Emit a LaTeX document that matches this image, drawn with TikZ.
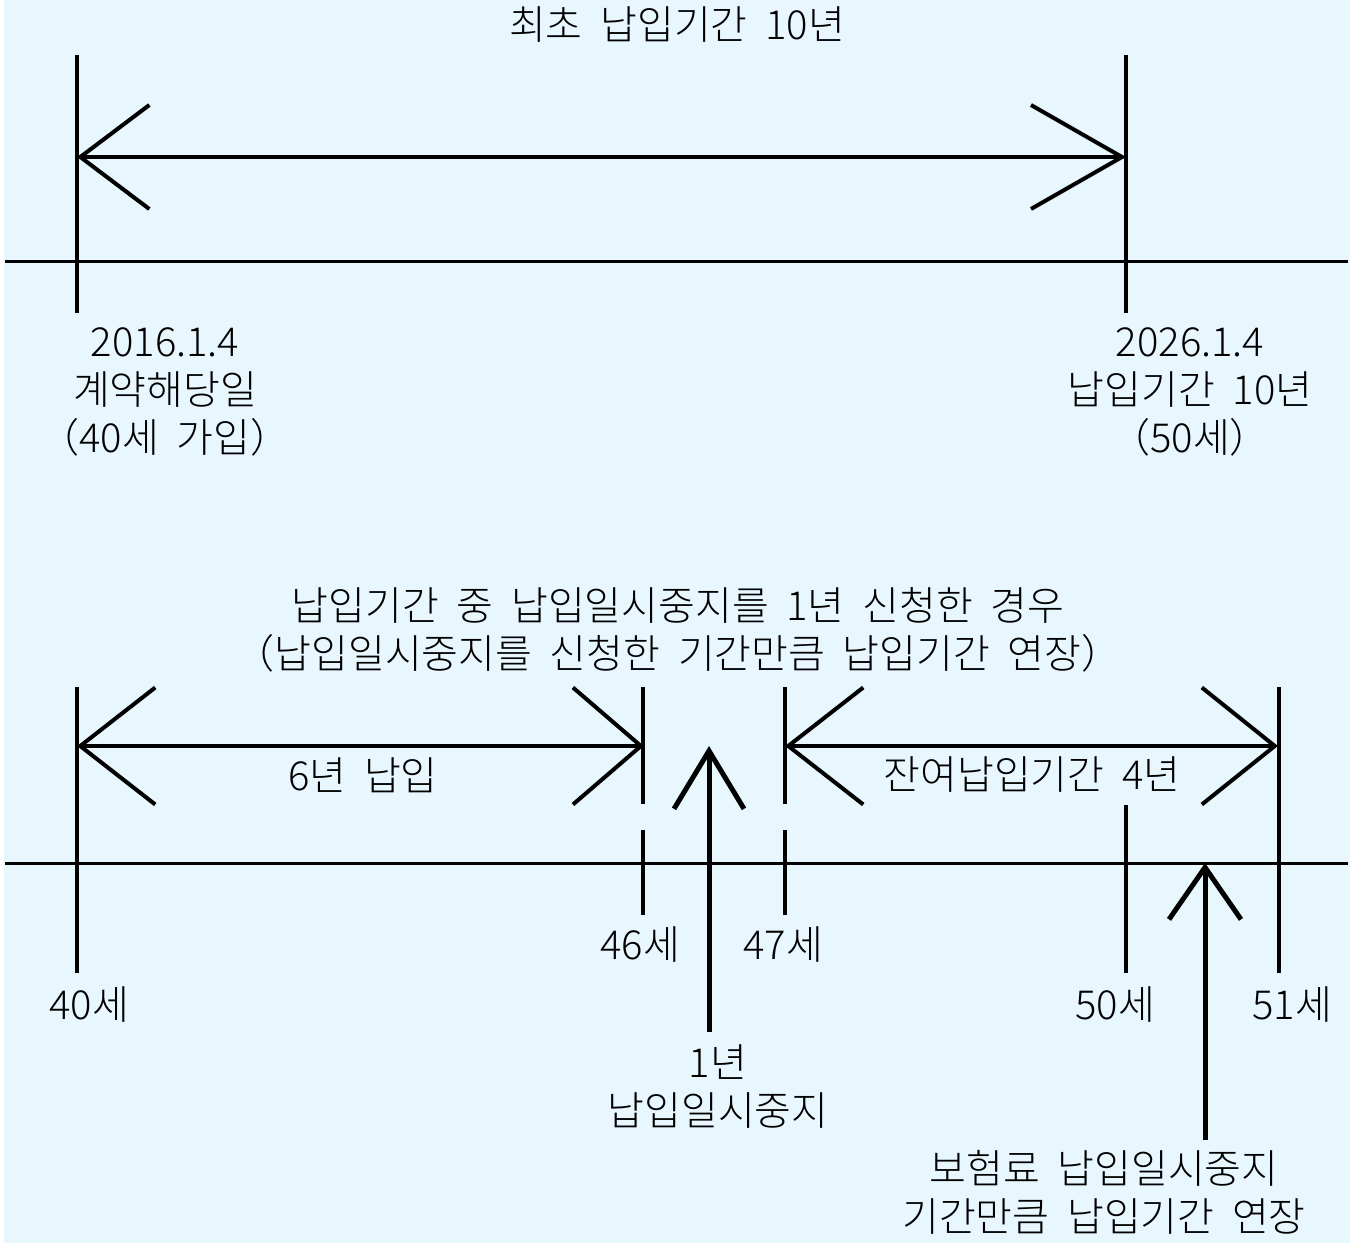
\documentclass[tikz,border=0pt]{standalone}
\usepackage{fontspec}
\setmainfont{Noto Sans CJK KR}[UprightFont=* Light, WordSpace=2]
\usetikzlibrary{positioning,arrows.meta}
\definecolor{bgblue}{RGB}{232,246,254}
\tikzset{
  lbl/.style={inner sep=0pt,align=center,font=\fontsize{40}{48}\selectfont},
  tick/.style={line width=4pt},
  axis/.style={line width=3pt},
  span/.style={line width=4pt},
  upshaft/.style={line width=5pt}
}

\begin{document}
\begin{tikzpicture}[x=1pt,y=-1pt]
\useasboundingbox (0,0) rectangle (1354,1245);
\fill[white] (0,0) rectangle (1354,1245);
\fill[bgblue] (4,0) rectangle (1350,1243);

% first term
\draw[axis] (5,261) -- (1348,261);
\foreach \x in {77,1126}
  \draw[tick] (\x,55) -- (\x,313);
\coordinate (a0) at (77,157);
\coordinate (a1) at (1126,157);
\draw[span,{Straight Barb[length=69pt,width=104pt]}-{Straight Barb[length=91pt,width=104pt]}] (a0) -- (a1);
\node[lbl] (title) at (677,25) {최초 납입기간 10년};
\node[lbl] (start) at (165,392) {2016.1.4\\계약해당일\\（40세 가입）};
\node[lbl] (finish) at (1190,392) {2026.1.4\\납입기간 10년\\（50세）};

% with pause
\draw[axis] (5,863) -- (1348,863);
\foreach \x/\a/\b in {77/687/973,1279/687/973,1126/805/973,643/687/804,643/830/915,785/687/804,785/830/915}
  \draw[tick] (\x,\a) -- (\x,\b);
\coordinate (b0) at (77,746);
\coordinate (b1) at (644,746);
\coordinate (c0) at (785,746);
\coordinate (c1) at (1278,746);
\draw[span,{Straight Barb[length=75pt,width=117pt]}-{Straight Barb[length=68pt,width=117pt]}] (b0) -- (b1);
\draw[span,{Straight Barb[length=75pt,width=117pt]}-{Straight Barb[length=73pt,width=117pt]}] (c0) -- (c1);
\coordinate (p0) at (709,1032);
\coordinate (p1) at (709,746);
\coordinate (q0) at (1205,1140);
\coordinate (q1) at (1205,863);
\draw[upshaft,-{Straight Barb[length=58pt,width=70pt]}] (p0) -- (p1);
\draw[upshaft,-{Straight Barb[length=52pt,width=72pt]}] (q0) -- (q1);

\node[lbl] (case) at (678,630) {납입기간 중 납입일시중지를 1년 신청한 경우\\（납입일시중지를 신청한 기간만큼 납입기간 연장）};
\node[lbl] (paid) at (363,775) {6년 납입};
\node[lbl] (rest) at (1032,775) {잔여납입기간 4년};
\node[lbl] (age40) at (89,1005) {40세};
\node[lbl] (age46) at (640,945) {46세};
\node[lbl] (age47) at (783,945) {47세};
\node[lbl] (age50) at (1115,1005) {50세};
\node[lbl] (age51) at (1292,1005) {51세};
\node[lbl] (pause) at (718,1087) {1년\\납입일시중지};
\node[lbl] (ext) at (1104,1192) {보험료 납입일시중지\\기간만큼 납입기간 연장};
\end{tikzpicture}
\end{document}
